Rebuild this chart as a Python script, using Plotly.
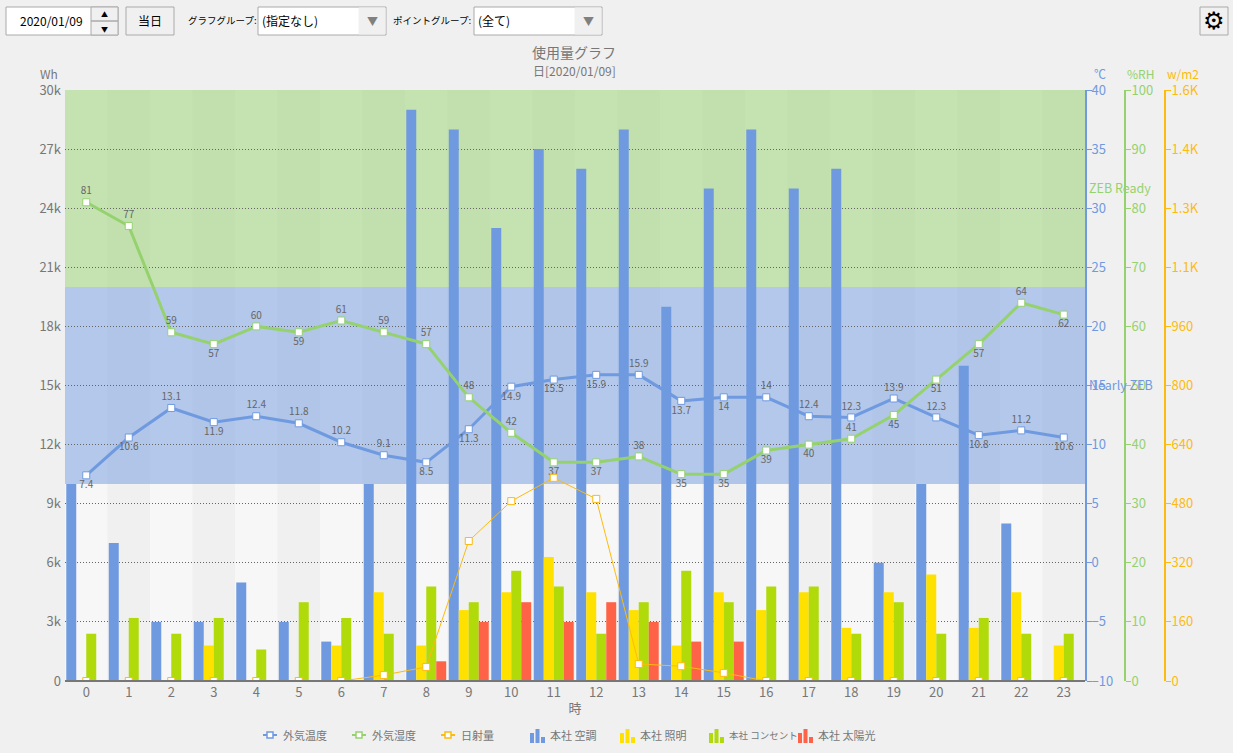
"""
使用量グラフ (1日分) — Plotly
"""

import plotly.graph_objects as go

HOURS = list(range(24))

AIRCON = [10000, 7000, 3000, 3000, 5000, 3000, 2000, 10000, 29000, 28000, 23000, 27000,
          26000, 28000, 19000, 25000, 28000, 25000, 26000, 6000, 10000, 16000, 8000, 0]
LIGHTING = [0, 0, 0, 1800, 0, 0, 1800, 4500, 1800, 3600, 4500, 6300,
            4500, 3600, 1800, 4500, 3600, 4500, 2700, 4500, 5400, 2700, 4500, 1800]
OUTLET = [2400, 3200, 2400, 3200, 1600, 4000, 3200, 2400, 4800, 4000, 5600, 4800,
          2400, 4000, 5600, 4000, 4800, 4800, 2400, 4000, 2400, 3200, 2400, 2400]
SOLAR = [0, 0, 0, 0, 0, 0, 0, 0, 1000, 3000, 4000, 3000,
         4000, 3000, 2000, 2000, 0, 0, 0, 0, 0, 0, 0, 0]

TEMP = [7.4, 10.6, 13.1, 11.9, 12.4, 11.8, 10.2, 9.1, 8.5, 11.3, 14.9, 15.5,
        15.9, 15.9, 13.7, 14, 14, 12.4, 12.3, 13.9, 12.3, 10.8, 11.2, 10.6]
HUMIDITY = [81, 77, 59, 57, 60, 59, 61, 59, 57, 48, 42, 37,
            37, 38, 35, 35, 39, 40, 41, 45, 51, 57, 64, 62]
IRRADIANCE = [0, 0, 0, 0, 0, 0, 0, 16, 38, 379, 487, 550,
              493, 46, 40, 22, 0, 0, 0, 0, 0, 0, 0, 0]

TEMP_SIDE = ["bottom", "bottom", "top", "bottom", "top", "top", "top", "top", "bottom", "bottom", "bottom", "bottom",
             "bottom", "top", "bottom", "bottom", "top", "top", "top", "top", "top", "bottom", "top", "bottom"]
HUMIDITY_SIDE = ["top", "top", "top", "bottom", "top", "bottom", "top", "top", "top", "top", "top", "bottom",
                 "bottom", "top", "bottom", "bottom", "bottom", "bottom", "top", "bottom", "bottom", "bottom", "top", "bottom"]

WH_TICKS = list(range(0, 30001, 3000))
TEMP_TICKS = list(range(-10, 41, 5))
HUMIDITY_TICKS = list(range(0, 101, 10))
IRRADIANCE_TICKS = [0, 160, 320, 480, 640, 800, 960, 1120, 1280, 1440, 1600]
IRRADIANCE_LABELS = ["0", "160", "320", "480", "640", "800", "960", "1.1K", "1.3K", "1.4K", "1.6K"]

ZONE_NAMES = ["ZEB Ready", "Nearly ZEB"]
ZONE_LOW = [20000, 10000]
ZONE_HIGH = [30000, 20000]

COLORS = {
    "bg": "#f0f0f0",
    "text": "#777777",
    "label": "#666666",
    "grid": "#666666",
    "stripe_light": "#f7f7f7",
    "stripe_dark": "#f0f0f0",
    "temp": "#6f9ae0",
    "humidity": "#95d26e",
    "sun": "#fdbb0f",
    "aircon": "#6f9ae0",
    "lighting": "#ffe100",
    "outlet": "#b1da0b",
    "solar": "#ff6347",
    "border": "#aaaaaa",
}
ZONE_FILL = ["rgba(146,208,108,0.5)", "rgba(111,154,224,0.5)"]
ZONE_TEXT = [COLORS["humidity"], COLORS["temp"]]

FONT = "Noto Sans CJK JP, Noto Sans, sans-serif"

# page pixels -> paper coords (plot area is 65..1165 / 90..681)
L, R, T, B = 65, 1165, 90, 681


def px(x):
    return (x - L) / (R - L)


def py(y):
    return (B - y) / (B - T)


def box(x0, y0, x1, y1, fill="white", line=COLORS["border"], width=1):
    return dict(type="rect", xref="paper", yref="paper", layer="above",
                x0=px(x0), x1=px(x1), y0=py(y1), y1=py(y0),
                fillcolor=fill, line=dict(color=line, width=width))


def label(x, y, text, size=12, color="black", anchor="left"):
    return dict(xref="paper", yref="paper", x=px(x), y=py(y), text=text, showarrow=False,
                xanchor=anchor, yanchor="middle", font=dict(size=size, color=color, family=FONT))


BAR_SERIES = [
    ("本社 空調", AIRCON, COLORS["aircon"]),
    ("本社 照明", LIGHTING, COLORS["lighting"]),
    ("本社 コンセント", OUTLET, COLORS["outlet"]),
    ("本社 太陽光", SOLAR, COLORS["solar"]),
]

fig = go.Figure()

for name, vals, col in BAR_SERIES:
    fig.add_trace(go.Bar(x=HOURS, y=vals, name=name, marker=dict(color=col, line_width=0)))


def line_trace(name, vals, col, axis, width=3, msize=7, text=None, side=None):
    return go.Scatter(
        x=HOURS, y=vals, name=name, yaxis=axis, mode="lines+markers+text" if text else "lines+markers",
        line=dict(color=col, width=width),
        marker=dict(symbol="square", size=msize, color="white", line=dict(color=col, width=1)),
        text=text, textposition=[s + " center" for s in side] if side else None,
        textfont=dict(size=10, color=COLORS["label"], family=FONT),
    )


fig.add_trace(line_trace("外気温度", TEMP, COLORS["temp"], "y2", text=[str(v) for v in TEMP], side=TEMP_SIDE))
fig.add_trace(line_trace("外気湿度", HUMIDITY, COLORS["humidity"], "y3", text=[str(v) for v in HUMIDITY], side=HUMIDITY_SIDE))
fig.add_trace(line_trace("日射量", IRRADIANCE, COLORS["sun"], "y4", width=1))

shapes = []
# hour stripes
for h in HOURS:
    shapes.append(dict(type="rect", layer="below", xref="x", yref="y domain", x0=h - 0.5, x1=h + 0.5, y0=0, y1=1,
                       fillcolor=COLORS["stripe_dark"] if h % 2 else COLORS["stripe_light"], line_width=0))
# ZEB zones
for low, high, fill in zip(ZONE_LOW, ZONE_HIGH, ZONE_FILL):
    shapes.append(dict(type="rect", layer="below", xref="x domain", yref="y", x0=0, x1=1, y0=low, y1=high,
                       fillcolor=fill, line_width=0))
# base line sits over the traces, the 0 W/m2 run must not show on it
shapes.append(dict(type="line", layer="above", xref="x domain", yref="y domain", x0=0, x1=1, y0=0, y1=0,
                   line=dict(color="#777777", width=2)))

# toolbar
shapes += [
    box(6, 7, 118, 35),
    box(91, 7, 118, 35, fill=COLORS["bg"]),
    box(91, 21, 118, 21),
    box(126, 7, 174, 35, fill=COLORS["bg"]),
    box(258, 7, 386, 35),
    box(359, 8, 385, 34, fill=COLORS["bg"], line=COLORS["bg"]),
    box(474, 7, 602, 35),
    box(575, 8, 601, 34, fill=COLORS["bg"], line=COLORS["bg"]),
    box(1200, 7, 1228, 35, fill=COLORS["bg"]),
]

annotations = [
    label(18, 21, "2020/01/09"),
    label(104.5, 14, "▲", size=7, anchor="center"),
    label(104.5, 29, "▼", size=7, anchor="center"),
    label(150, 21, "当日", anchor="center"),
    label(186, 20, "グラフグループ:", size=9.5),
    label(260, 21, "(指定なし)"),
    label(372, 21, "▼", size=11, color="#808080", anchor="center"),
    label(391, 20, "ポイントグループ:", size=9.5),
    label(476, 21, "(全て)"),
    label(588, 21, "▼", size=11, color="#808080", anchor="center"),
    dict(xref="paper", yref="paper", x=px(1214), y=py(21), text="⚙", showarrow=False, xanchor="center", yanchor="middle",
         font=dict(size=24, color="black", family="DejaVu Sans")),
    label(574, 52, "使用量グラフ", size=14, color=COLORS["text"], anchor="center"),
    label(574, 71, "日[2020/01/09]", size=12, color=COLORS["text"], anchor="center"),
    label(49, 73, "Wh", size=12, color=COLORS["text"], anchor="center"),
    label(1100, 73, "℃", size=12, color=COLORS["temp"], anchor="center"),
    label(1140, 73, "%RH", size=12, color=COLORS["humidity"], anchor="center"),
    label(1183, 73, "w/m2", size=12, color=COLORS["sun"], anchor="center"),
]
for name, low, high, col in zip(ZONE_NAMES, ZONE_LOW, ZONE_HIGH, ZONE_TEXT):
    annotations.append(dict(xref="x", yref="y", x=23.5, y=(low + high) / 2, xshift=2, yshift=1, xanchor="left", showarrow=False,
                            text=name, font=dict(size=12.5, color=col, family=FONT)))

# legend drawn by hand: plotly has no three-bar glyph and its line samples are too wide here
for name, col, x in [("外気温度", COLORS["temp"], 263), ("外気湿度", COLORS["humidity"], 352), ("日射量", COLORS["sun"], 441)]:
    shapes.append(dict(type="line", layer="above", xref="paper", yref="paper", x0=px(x), x1=px(x + 14),
                       y0=py(735), y1=py(735), line=dict(color=col, width=2)))
    shapes.append(box(x + 4, 732, x + 10, 738, line=col, width=1.5))
    annotations.append(label(x + 18, 735, name, size=11, color=COLORS["text"]))
for (name, _, col), x, fsize in zip(BAR_SERIES, [530, 620, 709, 798], [11, 11, 9.5, 11]):
    for dx, top in [(0, 733), (5.5, 729), (11, 737)]:
        shapes.append(box(x + dx, top, x + dx + 4, 743, fill=col, line=col, width=0))
    annotations.append(label(x + 18, 735, name, size=fsize, color=COLORS["text"]))


def side_axis(col, ticks, rng, standoff=-2, **kw):
    return dict(overlaying="y", side="right", range=rng, tickvals=ticks, showgrid=False, zeroline=False,
                showline=True, linecolor=col, linewidth=2, ticks="outside", ticklen=5, tickcolor=col, tickwidth=1,
                ticklabelstandoff=standoff, tickfont=dict(color=col, size=13, family=FONT), **kw)


fig.update_layout(
    width=1233,
    height=753,
    margin=dict(l=L, r=1233 - R, t=T, b=753 - B, autoexpand=False),
    paper_bgcolor=COLORS["bg"],
    plot_bgcolor=COLORS["stripe_light"],
    font=dict(family=FONT, color=COLORS["text"], size=13),
    barmode="group",
    bargap=0.06,
    bargroupgap=0,
    showlegend=False,
    shapes=shapes,
    annotations=annotations,
    xaxis=dict(domain=[0, (1085 - L) / (R - L)], range=[-0.5, 23.5], tickvals=HOURS, showgrid=False, zeroline=False,
               showline=False, ticks="", ticklabelstandoff=2,
               title=dict(text="時", font=dict(size=13, color=COLORS["text"]), standoff=3)),
    yaxis=dict(range=[0, 30000], tickvals=WH_TICKS, tickformat="~s", showgrid=True, gridcolor=COLORS["grid"],
               griddash="1px,2px", gridwidth=1, zeroline=False, ticks="", ticklabelstandoff=3, tickfont=dict(size=13)),
    yaxis2=side_axis(COLORS["temp"], TEMP_TICKS, [-10, 40], standoff=-3, anchor="x"),
    yaxis3=side_axis(COLORS["humidity"], HUMIDITY_TICKS, [0, 100], anchor="free", position=(1125 - L) / (R - L)),
    yaxis4=side_axis(COLORS["sun"], IRRADIANCE_TICKS, [0, 1600], anchor="free", position=1, ticktext=IRRADIANCE_LABELS),
)

fig.write_html("out.html", config={"displayModeBar": False}, post_script="document.body.style.margin='0';")
